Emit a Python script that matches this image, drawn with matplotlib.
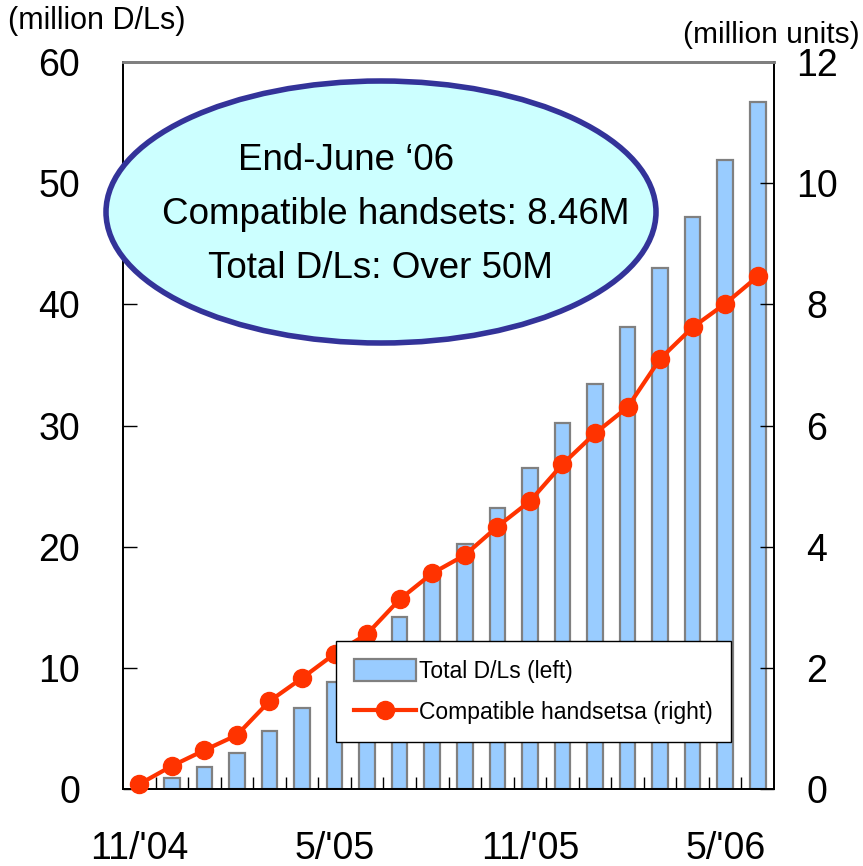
import numpy as np
import matplotlib.pyplot as plt
from matplotlib.patches import Ellipse, Patch
from matplotlib.lines import Line2D

# monthly data, 11/04 .. 6/06
months = ["11/04", "12/04", "1/05", "2/05", "3/05", "4/05", "5/05", "6/05",
          "7/05", "8/05", "9/05", "10/05", "11/05", "12/05", "1/06", "2/06",
          "3/06", "4/06", "5/06", "6/06"]
total_dls = [0, 0.9, 1.8, 3.0, 4.8, 6.7, 8.8, 11.5, 14.2, 17.5, 20.2, 23.2,
             26.5, 30.2, 33.4, 38.1, 43.0, 47.2, 51.9, 56.7]
handsets = [0.08, 0.38, 0.64, 0.89, 1.45, 1.83, 2.23, 2.56, 3.13, 3.56, 3.86,
            4.33, 4.75, 5.36, 5.87, 6.30, 7.10, 7.62, 8.01, 8.46]
xtick_pos = [0, 6, 12, 18]
xtick_labels = ["11/'04", "5/'05", "11/'05", "5/'06"]
left_ticks = [0, 10, 20, 30, 40, 50, 60]
right_ticks = [0, 2, 4, 6, 8, 10, 12]

plt.rcParams['font.family'] = ['Liberation Sans', 'DejaVu Sans']

W, H = 863, 866
fig = plt.figure(figsize=(W / 100, H / 100), dpi=100)
ax = fig.add_axes([123 / W, 1 - 789 / H, (774 - 123) / W, (789 - 62) / H])
ax2 = ax.twinx()

x = np.arange(len(months))
ax.bar(x, total_dls, width=0.48, color='#99CCFF', edgecolor='#808080',
       linewidth=1.6, zorder=2)
ax2.plot(x, handsets, color='#FF3300', lw=3, marker='o', ms=13, zorder=3,
         clip_on=False)

ax.set_xlim(-0.5, len(months) - 0.5)
ax.set_ylim(0, 60)
ax2.set_ylim(0, 12)

ax.set_yticks(left_ticks)
ax2.set_yticks(right_ticks)
ax.tick_params(axis='y', direction='in', length=10, width=1, pad=31,
               labelsize=27)
ax2.tick_params(axis='y', direction='in', length=10, width=1, pad=31,
                labelsize=27)
for t in ax2.get_yticklabels():
    t.set_horizontalalignment('center')

ax.set_xticks(xtick_pos)
ax.set_xticklabels(xtick_labels)
ax.set_xticks(np.arange(0.5, len(months) - 1, 1.0), minor=True)
ax.tick_params(axis='x', which='major', length=0, pad=30, labelsize=27)
ax.tick_params(axis='x', which='minor', direction='in', length=9, width=1)

for a in (ax, ax2):
    a.spines['top'].set_color('#808080')
    a.spines['top'].set_linewidth(2)
    for s in ('left', 'right', 'bottom'):
        a.spines[s].set_linewidth(1.3)
        a.spines[s].set_color('black')

fig.text(8 / W, 1 - 21 / H, "(million D/Ls)", fontsize=22, va='center',
         ha='left')
fig.text(860 / W, 1 - 35 / H, "(million units)", fontsize=21.5, va='center',
         ha='right')

# callout ellipse
ell = Ellipse((381 / W, 1 - 212 / H), 550 / W, 262 / H,
              transform=fig.transFigure, facecolor='#CCFFFF',
              edgecolor='#333399', linewidth=4, zorder=10)
fig.patches.append(ell)
fig.text(346 / W, 1 - 160 / H, "End-June \u201806", fontsize=26.5,
         ha='center', va='center', zorder=11)
fig.text(396 / W, 1 - 214 / H, "Compatible handsets: 8.46M", fontsize=26.5,
         ha='center', va='center', zorder=11)
fig.text(380 / W, 1 - 268 / H, "Total D/Ls: Over 50M", fontsize=26.5,
         ha='center', va='center', zorder=11)

handles = [Patch(facecolor='#99CCFF', edgecolor='#808080', linewidth=1.6),
           Line2D([], [], color='#FF3300', lw=3, marker='o', ms=13)]
labels = ["Total D/Ls (left)", "Compatible handsetsa (right)"]
leg = ax2.legend(handles, labels, loc='upper left',
                 bbox_to_anchor=(336 / W, 1 - 641 / H),
                 bbox_transform=fig.transFigure, fontsize=16.5, frameon=True,
                 fancybox=False, edgecolor='black', framealpha=1,
                 handlelength=2.7, handleheight=1.1, handletextpad=0.1,
                 borderpad=0.8, labelspacing=0.75, borderaxespad=0)
leg.get_frame().set_linewidth(1)
leg.set_zorder(20)

fig.savefig("out.png", dpi=100)
